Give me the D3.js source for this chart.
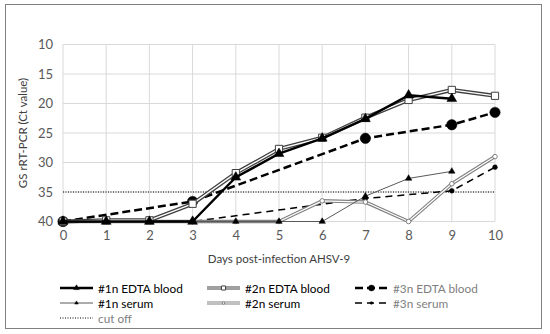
<!DOCTYPE html>
<html>
<head>
<meta charset="utf-8">
<script src="https://cdn.jsdelivr.net/npm/d3@7"></script>
<style>
  body { margin: 0; background: #fff; }
  text { font-family: Lato, "Open Sans", sans-serif; }
</style>
</head>
<body>
<div id="chart"></div>
<script>
const days = [0, 1, 2, 3, 4, 5, 6, 7, 8, 9, 10];
const yTicks = [10, 15, 20, 25, 30, 35, 40];
const cutOff = 35;

// Ct values per day, null = not sampled
const edta1 = [40, 40, 40, 40, 32.5, 28.5, 25.9, 22.6, 18.6, 19.2, null];
const edta2 = [40, 39.8, 39.8, 37, 31.8, 27.7, 25.8, 22.4, 19.4, 17.7, 18.7];
const edta3 = [40, null, null, 36.6, null, null, null, 25.9, null, 23.6, 21.5];
const serum1 = [40, 40, 40, 40, 40, 40, 40, 35.7, 32.7, 31.5, null];
const serum2 = [40, 40, 40, 40, 40, 40, 36.5, 36.7, 40, 33.6, 29.0];
const serum3 = [40, null, null, 40, null, null, null, 36.1, null, 34.8, 30.8];

const series = [
  {name: "#1n EDTA blood", values: edta1, kind: "solid", color: "#000", width: 2.5, marker: "tri", size: 42, fill: "#000", text: "#000"},
  {name: "#2n EDTA blood", values: edta2, kind: "double", color: "#404040", width: 4, marker: "sq", size: 52, fill: "#fff", text: "#000"},
  {name: "#3n EDTA blood", values: edta3, kind: "dash", color: "#000", width: 2.5, dash: "8,4", marker: "circ", size: 85, fill: "#000", text: "#7f7f7f"},
  {name: "#1n serum", values: serum1, kind: "solid", color: "#595959", width: 1, marker: "tri", size: 18, fill: "#000", text: "#000"},
  {name: "#2n serum", values: serum2, kind: "double", color: "#808080", width: 3.5, marker: "circ", size: 16, fill: "#fff", text: "#000"},
  {name: "#3n serum", values: serum3, kind: "dash", color: "#000", width: 1.5, dash: "7,5", marker: "circ", size: 18, fill: "#000", text: "#7f7f7f"}
];

const W = 550, H = 334;
const svg = d3.select("#chart").append("svg").attr("width", W).attr("height", H);

svg.append("rect").attr("x", 5.5).attr("y", 4.5).attr("width", 536).attr("height", 324)
  .attr("fill", "#fff").attr("stroke", "#808080").attr("stroke-width", 1);

const x = d3.scaleLinear().domain([0, 10]).range([63, 495]);
const y = d3.scaleLinear().domain([10, 40]).range([44.5, 221.5]);

// grid
svg.append("g").selectAll("line").data(days).enter().append("line")
  .attr("x1", d => x(d)).attr("x2", d => x(d)).attr("y1", y(10)).attr("y2", y(40))
  .attr("stroke", "#d9d9d9");
svg.append("g").selectAll("line").data(yTicks).enter().append("line")
  .attr("x1", x(0)).attr("x2", x(10)).attr("y1", d => y(d)).attr("y2", d => y(d))
  .attr("stroke", "#d9d9d9");

// axes (labels only, Excel style)
const xAxis = svg.append("g").attr("transform", `translate(0,${y(40)})`)
  .call(d3.axisBottom(x).tickValues(days).tickSize(0).tickPadding(9).tickFormat(d3.format("d")));
const yAxis = svg.append("g").attr("transform", `translate(${x(0)},0)`)
  .call(d3.axisLeft(y).tickValues(yTicks).tickSize(0).tickPadding(10));
[xAxis, yAxis].forEach(a => {
  a.select(".domain").remove();
  a.selectAll("text").attr("font-size", 13).attr("fill", "#595959").attr("font-family", "Lato, sans-serif");
});

svg.append("text").attr("x", x(5)).attr("y", 263).attr("text-anchor", "middle")
  .attr("font-size", 11.5).attr("fill", "#404040").text("Days post-infection AHSV-9");
svg.append("text").attr("transform", `translate(27,${y(25)}) rotate(-90)`).attr("text-anchor", "middle")
  .attr("font-size", 11.5).attr("fill", "#404040").text("GS rRT-PCR (Ct value)");

// cut off
svg.append("line").attr("x1", x(0)).attr("x2", x(10)).attr("y1", y(cutOff)).attr("y2", y(cutOff))
  .attr("stroke", "#000").attr("stroke-width", 1).attr("stroke-dasharray", "1,1.5");

const line = d3.line().x(d => x(d[0])).y(d => y(d[1]));

function markerShape(s, k) {
  const t = s.marker === "tri" ? d3.symbolTriangle : s.marker === "sq" ? d3.symbolSquare : d3.symbolCircle;
  return d3.symbol().type(t).size(s.size * (k || 1))();
}

function drawLine(g, pts, s) {
  if (s.kind === "double") {
    g.append("path").attr("d", line(pts)).attr("fill", "none").attr("stroke", s.color)
      .attr("stroke-width", s.width).attr("stroke-linejoin", "round");
    g.append("path").attr("d", line(pts)).attr("fill", "none").attr("stroke", "#fff")
      .attr("stroke-width", s.width * 0.35).attr("stroke-linejoin", "round");
  } else {
    g.append("path").attr("d", line(pts)).attr("fill", "none").attr("stroke", s.color)
      .attr("stroke-width", s.width).attr("stroke-dasharray", s.kind === "dash" ? s.dash : null)
      .attr("stroke-linejoin", "round");
  }
}

function drawMarkers(g, pts, s) {
  g.selectAll(".m").data(pts).enter().append("path")
    .attr("transform", d => `translate(${x(d[0])},${y(d[1])})`)
    .attr("d", markerShape(s))
    .attr("fill", s.fill)
    .attr("stroke", s.fill === "#fff" ? s.color : "#000")
    .attr("stroke-width", s.fill === "#fff" ? 1 : 0.5);
}

// draw back-to-front: serum first, then EDTA
const order = [5, 4, 3, 2, 1, 0];
order.forEach(i => {
  const s = series[i];
  const pts = days.map((d, k) => [d, s.values[k]]).filter(p => p[1] != null);
  const g = svg.append("g");
  drawLine(g, pts, s);
  drawMarkers(g, pts, s);
});

// legend
const legX = [60, 207, 355], legY = [288, 303, 318];
const legItems = series.map((s, i) => ({s, col: i % 3, row: Math.floor(i / 3)}));
legItems.push({s: {name: "cut off", kind: "dot", text: "#7f7f7f"}, col: 0, row: 2});

legItems.forEach(it => {
  const s = it.s;
  const lx = legX[it.col], ly = legY[it.row];
  const g = svg.append("g");
  if (s.kind === "dot") {
    g.append("line").attr("x1", lx).attr("x2", lx + 33).attr("y1", ly).attr("y2", ly)
      .attr("stroke", "#000").attr("stroke-dasharray", "1,1.5");
  } else {
    const lx2 = lx + 33;
    const pts = [[lx, ly], [lx2, ly]];
    const ln = d3.line();
    if (s.kind === "double") {
      g.append("path").attr("d", ln(pts)).attr("stroke", s.color).attr("stroke-width", s.width * 0.8);
      g.append("path").attr("d", ln(pts)).attr("stroke", "#fff").attr("stroke-width", s.width * 0.3);
    } else {
      g.append("path").attr("d", ln(pts)).attr("stroke", s.color).attr("stroke-width", s.width)
        .attr("stroke-dasharray", s.kind === "dash" ? s.dash : null);
    }
    g.append("path").attr("transform", `translate(${(lx + lx2) / 2},${ly})`)
      .attr("d", markerShape(s, 0.32)).attr("fill", s.fill)
      .attr("stroke", s.fill === "#fff" ? s.color : "#000").attr("stroke-width", s.fill === "#fff" ? 1 : 0.5);
  }
  g.append("text").attr("x", lx + 38).attr("y", ly + 4.5).attr("font-size", 11.8)
    .attr("fill", s.text).text(s.name);
});
</script>
</body>
</html>
